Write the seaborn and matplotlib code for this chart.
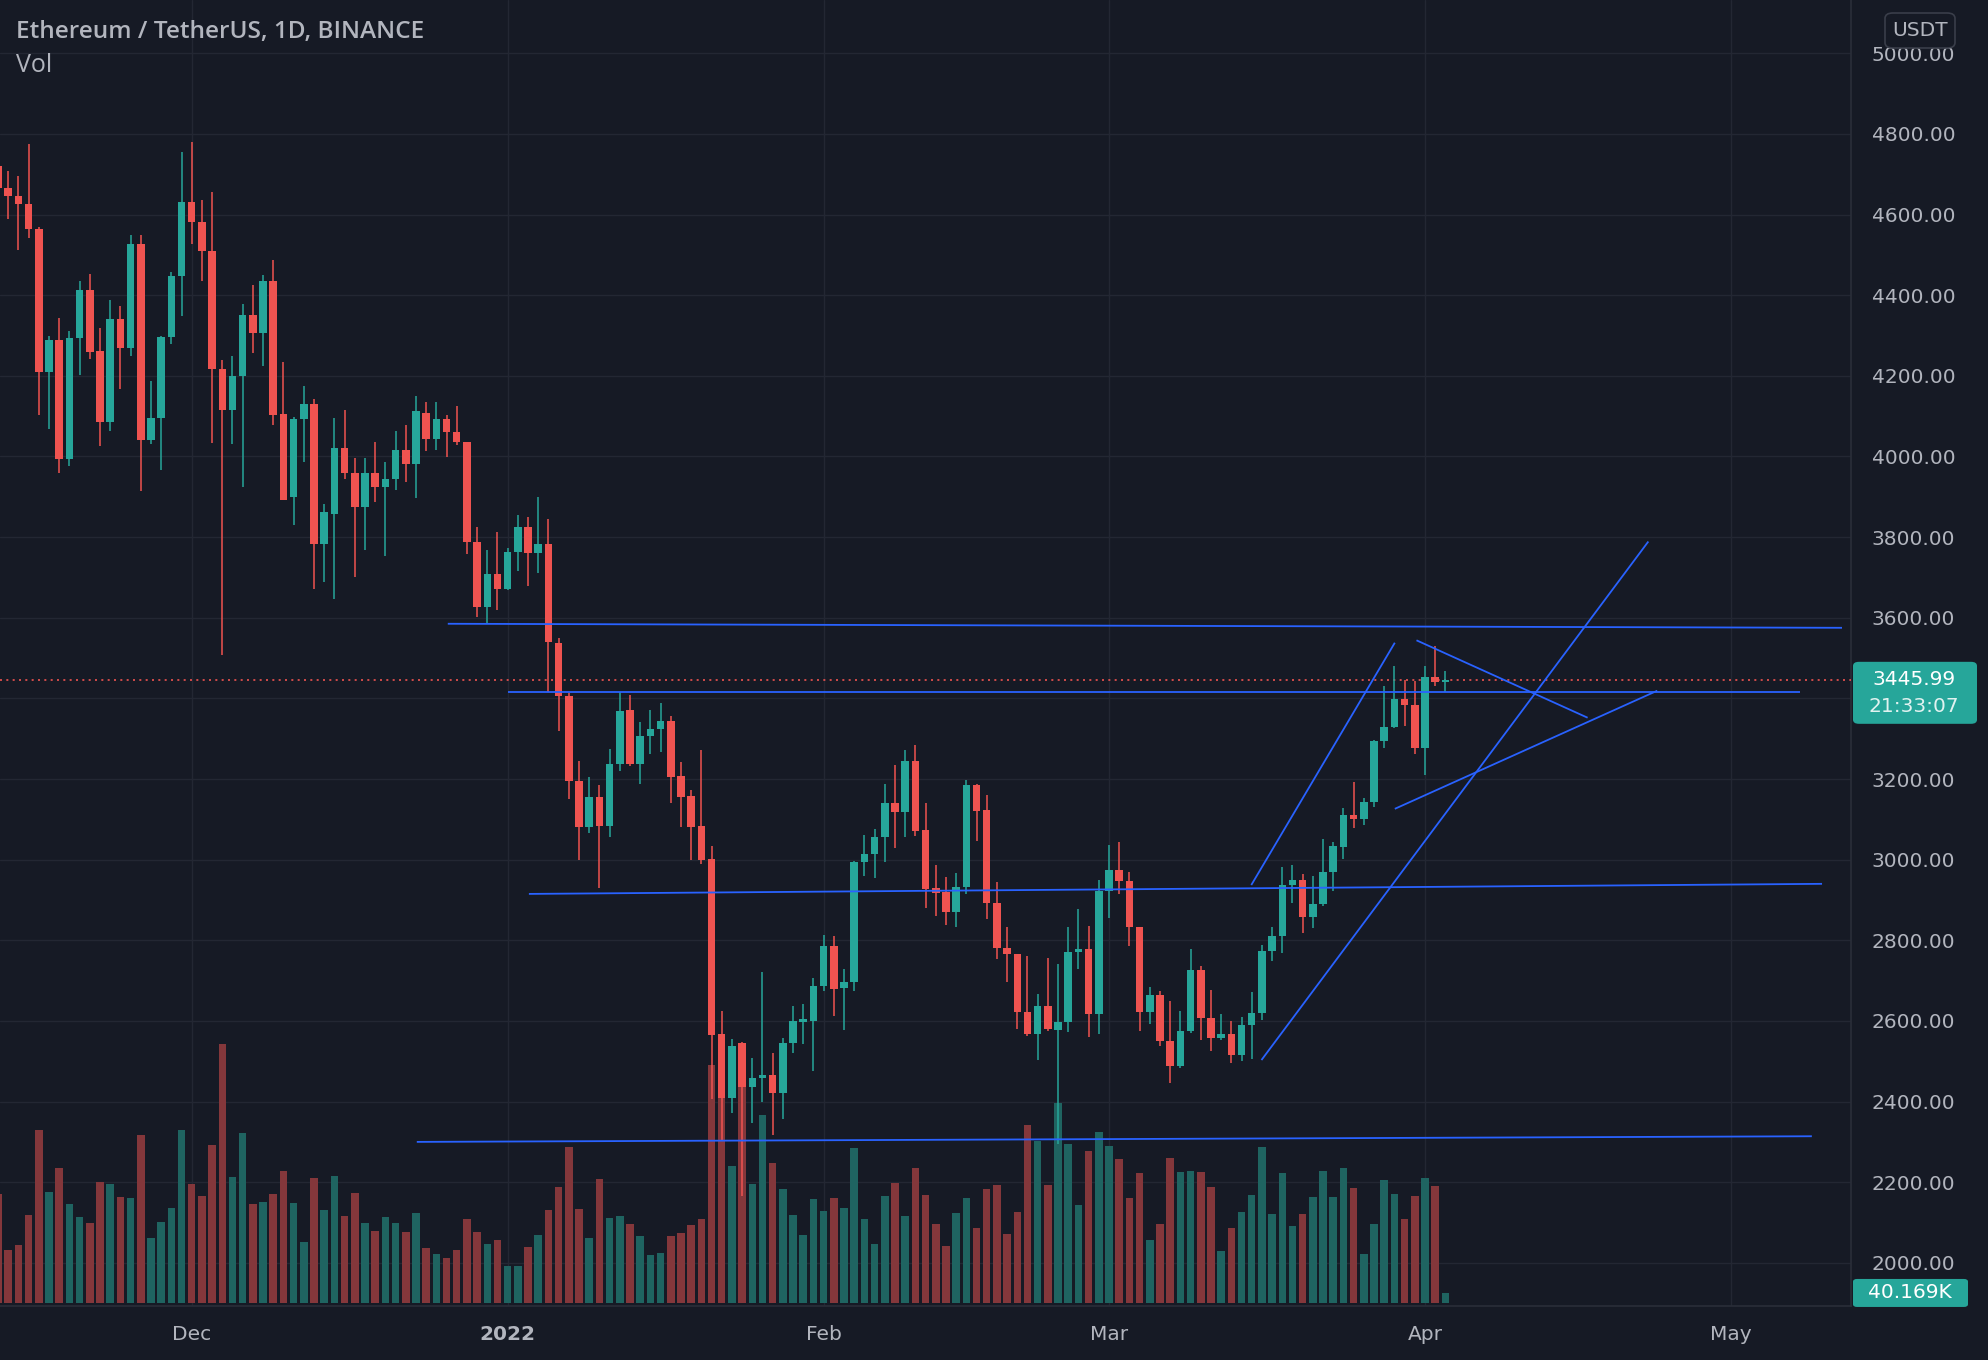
import numpy as np
import pandas as pd
import matplotlib
matplotlib.use("Agg")
import matplotlib.pyplot as plt
import seaborn as sns
from matplotlib.patches import FancyBboxPatch

# ---------------- data (ETH/USDT daily, 2021-11-12 .. 2022-04-03) ----------------
start_date = "2021-11-12"
opens = [4720, 4666, 4645, 4627, 4564, 4209, 4290, 3994, 4294, 4414,
         4261, 4085, 4340, 4268, 4526, 4040, 4096, 4297, 4447, 4631,
         4581, 4509, 4216, 4116, 4199, 4350, 4307, 4436, 4106, 3900,
         4092, 4131, 3782, 3858, 4020, 3959, 3874, 3959, 3925, 3945,
         4015, 3980, 4107, 4043, 4093, 4060, 4035, 3789, 3627, 3708,
         3671, 3763, 3826, 3761, 3783, 3537, 3406, 3195, 3081, 3155,
         3083, 3238, 3370, 3238, 3307, 3323, 3345, 3207, 3158, 3083,
         3001, 2568, 2410, 2546, 2436, 2459, 2467, 2422, 2546, 2598,
         2600, 2687, 2786, 2681, 2696, 2995, 3013, 3055, 3140, 3117,
         3245, 3074, 2929, 2920, 2871, 2931, 3185, 3123, 2892, 2780,
         2766, 2623, 2568, 2637, 2578, 2598, 2770, 2778, 2617, 2923,
         2975, 2948, 2834, 2621, 2664, 2549, 2489, 2576, 2726, 2607,
         2558, 2568, 2516, 2591, 2619, 2774, 2811, 2937, 2949, 2858,
         2890, 2970, 3032, 3111, 3101, 3142, 3295, 3330, 3398, 3384,
         3277, 3452, 3440]
highs = [4810, 4707, 4695, 4774, 4570, 4298, 4344, 4311, 4436, 4453,
         4319, 4388, 4374, 4550, 4550, 4187, 4298, 4457, 4755, 4779,
         4635, 4655, 4240, 4250, 4377, 4426, 4451, 4488, 4234, 4098,
         4174, 4143, 3883, 4096, 4115, 3997, 3997, 4035, 3986, 4064,
         4077, 4151, 4134, 4134, 4103, 4126, 4035, 3824, 3768, 3812,
         3774, 3855, 3850, 3900, 3845, 3550, 3414, 3245, 3205, 3185,
         3275, 3415, 3408, 3342, 3370, 3389, 3356, 3243, 3172, 3271,
         3034, 2625, 2555, 2548, 2507, 2722, 2521, 2558, 2637, 2641,
         2707, 2813, 2811, 2728, 2997, 3061, 3075, 3188, 3235, 3272,
         3284, 3141, 2987, 2958, 2966, 3198, 3188, 3160, 2945, 2832,
         2766, 2761, 2667, 2755, 2741, 2834, 2878, 2836, 2950, 3037,
         3043, 2969, 2834, 2683, 2675, 2649, 2624, 2778, 2735, 2677,
         2617, 2601, 2609, 2671, 2789, 2834, 2981, 2987, 2964, 2960,
         3051, 3043, 3128, 3193, 3153, 3297, 3431, 3481, 3445, 3442,
         3481, 3531, 3467]
lows = [4510, 4588, 4513, 4542, 4104, 4067, 3959, 3976, 4202, 4242,
        4025, 4063, 4168, 4250, 3914, 4030, 3966, 4280, 4348, 4526,
        4435, 4034, 3508, 4032, 3925, 4257, 4224, 4077, 3891, 3829,
        3986, 3672, 3688, 3647, 3944, 3701, 3769, 3887, 3754, 3916,
        3936, 3897, 4014, 4016, 3999, 4029, 3758, 3602, 3584, 3619,
        3668, 3715, 3679, 3712, 3415, 3320, 3150, 3000, 3065, 2929,
        3055, 3220, 3232, 3187, 3261, 3268, 3141, 3081, 2998, 2990,
        2406, 2305, 2372, 2165, 2348, 2400, 2317, 2356, 2521, 2542,
        2476, 2673, 2612, 2578, 2675, 2959, 2954, 2995, 3028, 3057,
        3059, 2879, 2861, 2838, 2832, 2915, 3047, 2854, 2753, 2697,
        2579, 2563, 2503, 2576, 2295, 2572, 2729, 2559, 2568, 2855,
        2915, 2787, 2574, 2592, 2539, 2445, 2483, 2569, 2553, 2525,
        2553, 2495, 2500, 2506, 2602, 2748, 2768, 2892, 2817, 2830,
        2886, 2923, 3002, 3078, 3087, 3130, 3277, 3326, 3332, 3262,
        3211, 3431, 3415]
closes = [4666, 4645, 4625, 4563, 4209, 4288, 3994, 4294, 4414, 4259,
          4085, 4340, 4268, 4526, 4040, 4096, 4297, 4447, 4631, 4581,
          4509, 4216, 4116, 4199, 4350, 4307, 4436, 4104, 3893, 4092,
          4131, 3782, 3862, 4020, 3959, 3874, 3959, 3925, 3945, 4015,
          3980, 4112, 4043, 4093, 4060, 4035, 3789, 3627, 3708, 3671,
          3763, 3826, 3761, 3783, 3539, 3406, 3195, 3081, 3155, 3083,
          3238, 3369, 3238, 3307, 3323, 3345, 3205, 3155, 3081, 2998,
          2565, 2410, 2538, 2436, 2459, 2467, 2422, 2546, 2600, 2604,
          2687, 2786, 2678, 2696, 2995, 3013, 3055, 3140, 3117, 3245,
          3072, 2927, 2918, 2871, 2933, 3185, 3121, 2892, 2780, 2766,
          2623, 2568, 2637, 2579, 2598, 2770, 2778, 2617, 2923, 2975,
          2946, 2832, 2621, 2664, 2549, 2489, 2576, 2726, 2607, 2558,
          2568, 2516, 2591, 2619, 2774, 2811, 2937, 2949, 2858, 2890,
          2970, 3035, 3111, 3101, 3142, 3295, 3330, 3398, 3384, 3277,
          3454, 3440, 3445.99]
volumes_k = [437, 211, 233, 353, 691, 445, 541, 397, 345, 321,
             485, 475, 423, 421, 672, 261, 325, 381, 693, 477,
             427, 632, 1037, 505, 680, 397, 405, 435, 529, 401,
             244, 501, 372, 509, 349, 439, 321, 289, 345, 321,
             285, 359, 221, 197, 181, 213, 337, 285, 237, 253,
             149, 149, 225, 273, 373, 465, 625, 377, 261, 497,
             341, 349, 317, 269, 193, 201, 269, 281, 313, 337,
             953, 860, 547, 1020, 477, 753, 561, 457, 353, 273,
             417, 369, 421, 381, 621, 337, 237, 429, 481, 349,
             541, 433, 317, 229, 361, 421, 301, 457, 473, 277,
             365, 713, 649, 473, 800, 637, 393, 609, 685, 629,
             577, 421, 521, 253, 317, 581, 525, 529, 525, 465,
             209, 301, 365, 433, 625, 357, 521, 309, 357, 425,
             529, 425, 541, 461, 197, 317, 493, 437, 337, 429,
             501, 469, 40.169]

month_ticks = ["2021-12-01", "2022-01-01", "2022-02-01", "2022-03-01", "2022-04-01", "2022-05-01"]
month_labels = ["Dec", "2022", "Feb", "Mar", "Apr", "May"]
price_ticks = list(range(2000, 5001, 200))
hidden_price_label = 3400  # covered by the last-price marker in the original

# drawn trend lines: (start time, start price, end time, end price)
trend_lines = [
    ("2021-12-26 03:00", 3585, "2022-05-11 22:00", 3575),
    ("2022-01-01 00:00", 3417, "2022-05-07 19:00", 3417),
    ("2022-01-03 02:00", 2915, "2022-05-09 23:00", 2940),
    ("2021-12-23 02:00", 2300, "2022-05-08 23:00", 2314),
    ("2022-03-14 23:00", 2937, "2022-03-29 01:00", 3538),
    ("2022-03-15 23:00", 2503, "2022-04-22 22:00", 3789),
    ("2022-03-31 04:00", 3544, "2022-04-16 23:00", 3352),
    ("2022-03-29 01:00", 3126, "2022-04-23 19:00", 3419),
]
title_text = "Ethereum / TetherUS, 1D, BINANCE"
last_price_text = "3445.99"
countdown_text = "21:33:07"
volume_text = "40.169K"

# ---------------- style ----------------
BG = "#161A25"
GRID = "#232733"
TXT = "#B2B5BE"
UP = "#26A69A"
DN = "#EF5350"
VUP = "#1F6461"
VDN = "#84373B"
LINE = "#2962FF"

sns.set_theme(style="dark")
plt.rcParams["font.family"] = ["DejaVu Sans"]

W, H = 1988, 1360
fig = plt.figure(figsize=(W / 100, H / 100), dpi=100, facecolor=BG)
ax = fig.add_axes([0, 54 / H, 1851 / W, 1306 / H])
ax.set_facecolor(BG)
axv = ax.twinx()
axp = ax.twinx()

n = len(closes)
t0 = pd.Timestamp(start_date)
idx = np.arange(n)
opens = np.array(opens, float)
highs = np.array(highs, float)
lows = np.array(lows, float)
closes = np.array(closes, float)
up = closes >= opens


def dpos(s):
    return (pd.Timestamp(s) - t0) / pd.Timedelta(days=1)


# volume bars via seaborn
vdf = pd.DataFrame({"day": idx, "vol": volumes_k,
                    "dir": np.where(up, "up", "down")})
sns.barplot(data=vdf, x="day", y="vol", hue="dir",
            palette={"up": VUP, "down": VDN}, native_scale=True,
            dodge=False, width=0.74, saturation=1, errorbar=None,
            legend=False, linewidth=0, ax=axv)
axv.set_xlabel("")
axv.set_ylabel("")
axv.set_ylim(-12, 5212)

# candles
colors = np.where(up, UP, DN)
axp.vlines(idx, lows, highs, colors=colors, linewidth=1.1, zorder=2)
body_lo = np.minimum(opens, closes)
body_h = np.maximum(np.abs(closes - opens), 3.0)
axp.bar(idx, body_h, bottom=body_lo, width=0.74, color=colors, linewidth=0, zorder=3)

# trend lines
for (d0, p0, d1, p1) in trend_lines:
    axp.plot([dpos(d0), dpos(d1)], [p0, p1], color=LINE, linewidth=1.3,
             solid_capstyle="butt", zorder=4)

# last price dotted line
axp.axhline(closes[-1], color=DN, linewidth=1.2, linestyle=(0, (1.2, 2.6)), zorder=1)

# axes limits
ylim = (1893, 5132)
xlim = (0.19, 181.8)
for a in (ax, axp):
    a.set_ylim(*ylim)
ax.set_xlim(*xlim)

# grid + ticks on the base axis
ax.set_yticks(price_ticks)
ax.set_yticklabels(["" if p == hidden_price_label else f"{p:.2f}" for p in price_ticks])
ax.yaxis.tick_right()
ax.set_xticks([dpos(m) for m in month_ticks])
ax.set_xticklabels(month_labels)
for lab in ax.get_xticklabels():
    if lab.get_text() == "2022":
        lab.set_fontweight("bold")
ax.tick_params(axis="y", length=0, pad=15, labelsize=14.5, labelcolor=TXT,
               right=True, labelright=True, left=False, labelleft=False)
ax.tick_params(axis="x", length=0, pad=14, labelsize=14.5, labelcolor=TXT)
ax.grid(True, color=GRID, linewidth=1.0)
ax.set_axisbelow(True)

for a in (axv, axp):
    a.yaxis.set_visible(False)
    a.grid(False)
for a in (ax, axv, axp):
    for s in a.spines.values():
        s.set_visible(False)
for side in ("right", "bottom"):
    ax.spines[side].set_visible(True)
    ax.spines[side].set_color("#2A2E39")
    ax.spines[side].set_linewidth(1.2)

# ---------------- right side labels ----------------
fig.canvas.draw()
# last price label
yp = ax.transData.transform((0, closes[-1]))[1]  # pixels from bottom
box = FancyBboxPatch((1853 / W, (yp - 44) / H), 124 / W, 62 / H,
                     boxstyle="round,pad=0,rounding_size=0.003",
                     transform=fig.transFigure, facecolor=UP, edgecolor="none",
                     zorder=10)
fig.patches.append(box)
fig.text(1914 / W, yp / H, last_price_text, ha="center", va="center",
         color="white", fontsize=14.5, zorder=11)
fig.text(1914 / W, (yp - 27) / H, countdown_text, ha="center", va="center",
         color="#E0F2F0", fontsize=14.5, zorder=11)

# volume label
yv = axv.transData.transform((0, volumes_k[-1]))[1]
vbox = FancyBboxPatch((1853 / W, (yv - 14) / H), 115 / W, 28 / H,
                      boxstyle="round,pad=0,rounding_size=0.002",
                      transform=fig.transFigure, facecolor=UP, edgecolor="none",
                      zorder=10)
fig.patches.append(vbox)
fig.text(1910 / W, yv / H, volume_text, ha="center", va="center",
         color="white", fontsize=14.5, zorder=11)

# USDT currency box (covers the top of the 5000.00 label, as in the original)
ubox = FancyBboxPatch((1885 / W, 1 - 48 / H), 70 / W, 35 / H,
                      boxstyle="round,pad=0,rounding_size=0.004",
                      transform=fig.transFigure, facecolor=BG,
                      edgecolor="#3A3E4A", linewidth=1.2, zorder=10)
fig.patches.append(ubox)
fig.text(1920 / W, 1 - 30.5 / H, "USDT", ha="center", va="center", color=TXT,
         fontsize=14.5, zorder=11)

# header
fig.text(16 / W, 1 - 32 / H, title_text, ha="left", va="center", color=TXT,
         fontsize=17.6, fontweight="semibold", family=["Open Sans", "DejaVu Sans"])
fig.text(16 / W, 1 - 66 / H, "Vol", ha="left", va="center", color=TXT,
         fontsize=18, family=["Open Sans", "DejaVu Sans"])

fig.savefig("out.png", dpi=100, facecolor=BG)
